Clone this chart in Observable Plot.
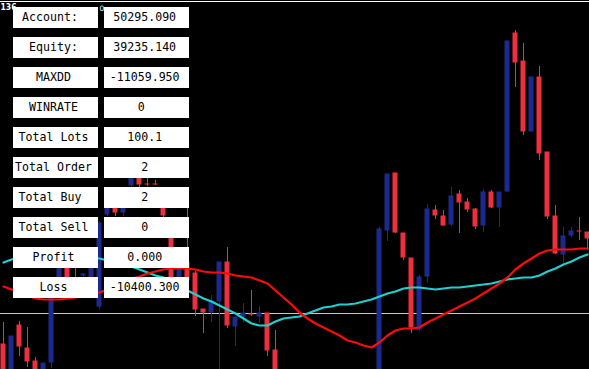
<!DOCTYPE html>
<html><head><meta charset="utf-8">
<script src="https://cdn.jsdelivr.net/npm/d3@7"></script>
<script src="https://cdn.jsdelivr.net/npm/@observablehq/plot@0.6"></script>
<style>
html,body{margin:0;padding:0;background:#000;}
#wrap{position:relative;width:589px;height:369px;overflow:hidden;background:#000;}
#wrap svg{display:block;}
.box{position:absolute;width:85px;height:21px;background:#fff;color:#000;font-family:"DejaVu Sans Mono",monospace;font-size:11.6px;line-height:21px;white-space:pre;}
.box span{position:absolute;top:0;transform:translateX(-50%);}
</style></head>
<body><div id="wrap"></div>
<script>
// ---- data (price points) ----
const candleIndex = [0,1,2,3,4,5,6,7,8,9,10,11,12,13,14,15,16,17,18,19,20,21,22,23,24,25,26,27,28,29,30,31,32,33,34,
  47,48,49,50,51,52,53,54,55,56,57,58,59,60,61,62,63,64,65,66,67,68,69,70,71,72,73];
const opens  = [25,-11,44,21,8,-11,6,84,107,89,93,79,62,154,171,156,183,201,185,185,169,143,79,107,96,60,56,67,107,42,52,55,52,56,19,
  -16,138,196,136,111,39,92,159,153,144,175,167,160,143,177,161,177,336,308,237,292,217,153,114,133,138,137];
const highs  = [47,33,48,42,12,6,81,111,111,104,96,107,148,173,174,181,203,205,193,189,173,147,119,164,98,60,74,107,122,52,66,79,63,56,39,
  142,195,196,136,111,94,165,164,159,182,179,171,161,180,179,177,328,339,326,292,303,217,164,142,142,152,137];
const lows   = [-16,-16,13,2,-16,-16,1,81,76,74,92,76,60,153,153,153,182,181,183,184,152,81,77,83,53,36,47,-11,41,23,47,53,46,13,-16,
  -21,128,136,109,36,38,86,150,143,143,136,157,140,137,161,142,177,282,234,237,209,150,115,106,132,129,119];
const closes = [-11,33,22,7,-11,6,79,107,79,77,95,103,146,169,156,177,199,184,184,184,153,84,116,88,59,56,68,107,43,52,56,54,56,18,-11,
  140,195,136,111,41,92,160,153,143,173,166,159,142,177,161,177,328,306,237,292,215,152,115,133,138,137,130];

const maIndex = d3.range(74);
const maRed = [83,80,77,74,71,70,70,70,71,72,73,75,77,80,84,88,91,93,96,98,100,101,101,101,100,98,97,97,96,94,93,92,89,86,79,
  72,65,57,51,46,42,38,34,29,27,24,22,27,34,39,41,41,42,47,51,55,59,63,67,71,76,81,86,92,100,106,111,116,119,120,120,120,121,121];
const maCyan = [107,110,112,113,114,115,115,115,115,114,113,112,111,109,107,105,103,100,97,94,92,88,84,79,75,71,68,64,60,56,51,46,44,44,48,
  51,52,53,56,59,62,63,65,65,66,68,70,73,76,78,81,82,82,81,80,81,82,82,83,84,85,86,88,90,91,92,92,94,98,101,105,108,112,115];

const topLevel = [368];
const orderLevel = [56];
const cornerLabels = ["136", "0"];

const tableLabels = ["Account: ", "Equity:", "MAXDD", "WINRATE", "Total Lots", "Total Order", "Total Buy ", "Total Sell", "Profit", "Loss"];
const tableValues = ["50295.090", "39235.140", "-11059.950", "0 ", "100.1", "2", "2", "0", "0.000", "-10400.300"];

// ---- build ----
const BLUE = "#1c2a8e", RED = "#ee2f3e";
const candles = candleIndex.map((i, j) => ({i, open: opens[j], high: highs[j], low: lows[j], close: closes[j]}));
const col = d => d.close > d.open ? BLUE : RED;
const red = maIndex.map((i, j) => ({i, v: maRed[j]}));
const cyan = maIndex.map((i, j) => ({i, v: maCyan[j]}));

const chart = Plot.plot({
  width: 589, height: 369, margin: 0,
  x: {domain: [-0.375, 73.25], axis: null},
  y: {domain: [0, 369], axis: null},
  color: {type: "identity"},
  style: {background: "#000", overflow: "hidden"},
  marks: [
    Plot.ruleY(topLevel, {stroke: "#ffffff", strokeWidth: 1}),
    Plot.ruleY(orderLevel, {stroke: "#c8c8c8", strokeWidth: 1}),
    Plot.ruleX(candles, {x: "i", y1: "low", y2: "high", stroke: col, strokeWidth: 1}),
    Plot.rect(candles, {x1: d => d.i - 0.3125, x2: d => d.i + 0.3125, y1: "open", y2: "close", fill: col, dy: -0.5}),
    Plot.line(cyan, {x: "i", y: "v", stroke: "#20d0d0", strokeWidth: 2.2, curve: "linear"}),
    Plot.line(red, {x: "i", y: "v", stroke: "#ff0a0a", strokeWidth: 2.2, curve: "linear"}),
    Plot.text([cornerLabels[0]], {frameAnchor: "top-left", text: d => d, dx: 0, dy: 3, fill: "#fff", fontSize: 8.5, fontWeight: "bold", textAnchor: "start", lineAnchor: "top", fontFamily: "DejaVu Sans Condensed"}),
    Plot.text([cornerLabels[1]], {frameAnchor: "top-left", text: d => d, dx: 99, dy: 5, fill: "#fff", fontSize: 7.5, textAnchor: "start", lineAnchor: "top", fontFamily: "DejaVu Sans"})
  ]
});
const wrap = document.getElementById("wrap");
wrap.appendChild(chart);

tableLabels.forEach((t, r) => {
  const top = 7 + 30 * r;
  const a = document.createElement("div");
  a.className = "box"; a.style.left = "13px"; a.style.top = top + "px";
  const s = document.createElement("span"); s.style.left = "40.5px"; s.textContent = t; a.appendChild(s);
  wrap.appendChild(a);
  const b = document.createElement("div");
  b.className = "box"; b.style.left = "104px"; b.style.top = top + "px";
  const s2 = document.createElement("span"); s2.style.left = "40.7px"; s2.textContent = tableValues[r]; b.appendChild(s2);
  wrap.appendChild(b);
});
</script></body></html>
